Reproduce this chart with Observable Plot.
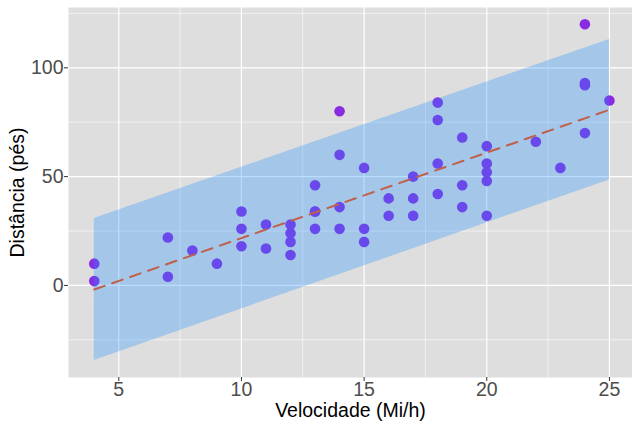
<!DOCTYPE html>
<html><head><meta charset="utf-8">
<script src="https://cdn.jsdelivr.net/npm/d3@7"></script>
<script src="https://cdn.jsdelivr.net/npm/@observablehq/plot@0.6"></script>
<style>body{margin:0;background:#fff;font-family:"Liberation Sans",Arial,sans-serif}</style>
</head><body><div id="chart"></div>
<script>
const speed = [4,4,7,7,8,9,10,10,10,11,11,12,12,12,12,13,13,13,13,14,14,14,14,15,15,15,16,16,17,17,17,18,18,18,18,19,19,19,20,20,20,20,20,22,23,24,24,24,24,25];
const dist = [2,10,4,22,16,10,18,26,34,17,28,14,20,24,28,26,34,34,46,26,36,60,80,20,26,54,32,40,32,40,50,42,56,76,84,36,46,68,32,48,52,56,64,66,54,70,92,93,120,85];
const bandX = [4, 25];
const bandLower = [-34.5, 48.5];
const bandUpper = [30.8, 113];
const fitY = [-1.85, 80.7];
const xTicks = [5,10,15,20,25];
const yTicks = [0,50,100];
const xMinor = [7.5,12.5,17.5,22.5];
const yMinor = [-25,25,75,125];

const pts = speed.map((s,i)=>({speed:s, dist:dist[i]}));
const band = bandX.map((x,i)=>({x, lo:bandLower[i], hi:bandUpper[i], fit:fitY[i]}));

const chart = Plot.plot({
  width: 632, height: 421,
  marginLeft: 68, marginRight: 0, marginTop: 7, marginBottom: 44,
  style: {fontFamily: '"Liberation Sans", Arial, sans-serif', background: "#fff"},
  x: {domain: [2.95, 25.94]},
  y: {domain: [-42.3, 127.7]},
  marks: [
    Plot.frame({fill: "#dedede", stroke: null}),
    Plot.ruleX(xMinor, {stroke: "white", strokeWidth: 0.6}),
    Plot.ruleY(yMinor, {stroke: "white", strokeWidth: 0.6}),
    Plot.ruleX(xTicks, {stroke: "white", strokeWidth: 1.2}),
    Plot.ruleY(yTicks, {stroke: "white", strokeWidth: 1.2}),
    Plot.dot(pts, {x: "speed", y: "dist", r: 5.3, fill: "#8a2be2", stroke: null}),
    Plot.areaY(band, {x: "x", y1: "lo", y2: "hi", fill: "#1e90ff", fillOpacity: 0.3}),
    Plot.line(band, {x: "x", y: "fit", stroke: "#c0604a", strokeWidth: 2, strokeDasharray: "11,8"}),
    Plot.axisX(xTicks, {tickSize: 4, tickPadding: 1, stroke: "#333", fill: "#4d4d4d", fontSize: 19.5, label: null}),
    Plot.axisY(yTicks, {tickSize: 4, tickPadding: 1, stroke: "#333", fill: "#4d4d4d", fontSize: 19.5, label: null}),
    Plot.text(["Velocidade (Mi/h)"], {frameAnchor: "bottom", textAnchor: "middle", lineAnchor: "middle", dy: 33, fontSize: 19.5, fill: "#000"}),
    Plot.text(["Distância (pés)"], {frameAnchor: "left", textAnchor: "middle", lineAnchor: "middle", dx: -51, rotate: -90, fontSize: 19.5, fill: "#000"})
  ]
});
document.getElementById("chart").appendChild(chart);
</script></body></html>
